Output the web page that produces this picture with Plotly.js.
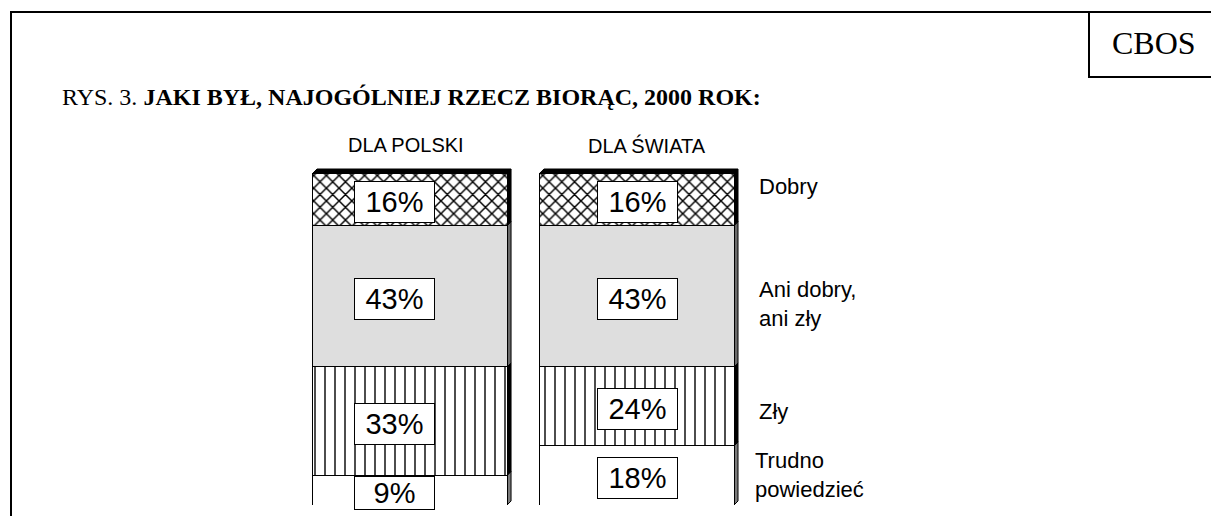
<!DOCTYPE html>
<html>
<head>
<meta charset="utf-8">
<script src="https://cdn.plot.ly/plotly-3.0.1.min.js"></script>
<style>html,body{margin:0;padding:0;background:#fff;}#chart{width:1211px;height:516px;}</style>
</head>
<body>
<div id="chart"></div>
<script>
// ---- data ----
const categories = ['DLA POLSKI', 'DLA ŚWIATA'];
const seriesNames = ['Trudno powiedzieć', 'Zły', 'Ani dobry, ani zły', 'Dobry'];
const trudno = [9, 18];
const zly = [33, 24];
const aniDobryAniZly = [43, 43];
const dobry = [16, 16];
const legendLabels = ['Trudno<br>powiedzieć', 'Zły', 'Ani dobry,<br>ani zły', 'Dobry'];
const titlePrefix = 'RYS. 3. ';
const titleMain = 'JAKI BYŁ, NAJOGÓLNIEJ RZECZ BIORĄC, 2000 ROK:';
const sourceLabel = 'CBOS';

const series = [trudno, zly, aniDobryAniZly, dobry];

// ---- geometry/style ----
const W = 1211, H = 516;
const M = {l: 250, r: 451, t: 150, b: 11};
const PW = W - M.l - M.r, PH = H - M.t - M.b;
const YMAX = 108;
const XR = [-0.705, 1.542];
const BARW = 0.855;
const pxPerX = PW / (XR[1] - XR[0]);
const pxPerY = PH / YMAX;
const dx = 4 / pxPerX, dy = 4 / pxPerY;
const px = x => (x - M.l) / PW;
const py = y => (H - M.b - y) / PH;

const styles = [
  {color: '#ffffff', pattern: {shape: ''}, side: '#7a7a7a'},
  {color: '#ffffff', pattern: {shape: '|', fgcolor: '#000000', bgcolor: '#ffffff', size: 10, solidity: 0.14}, side: '#000000'},
  {color: '#dedede', pattern: {shape: ''}, side: '#6a6a6a'},
  {color: '#ffffff', pattern: {shape: 'x', fgcolor: '#000000', bgcolor: '#ffffff', size: 9, solidity: 0.3}, side: '#000000'}
];
const valueShift = [-16, 1];
const legendYShift = [0, -5, -8, 13];
const legendX = [753, 757, 757, 757];

const traces = series.map((vals, s) => ({
  type: 'bar', name: seriesNames[s], x: categories, y: vals, width: BARW,
  marker: {color: styles[s].color, pattern: styles[s].pattern, line: {color: '#000', width: 1}},
  hoverinfo: 'skip', showlegend: false
}));

const shapes = [];
const annotations = [];
const fontSans = 'Liberation Sans, Arial, sans-serif';
const fontSerif = 'Liberation Serif, Times New Roman, serif';

categories.forEach((cat, i) => {
  const xl = i - BARW / 2, xr = i + BARW / 2;
  let base = 0;
  series.forEach((vals, s) => {
    const v = vals[i], top = base + v;
    shapes.push({type: 'path', xref: 'x', yref: 'y', layer: 'below',
      path: `M ${xr},${base} L ${xr + dx},${base + dy} L ${xr + dx},${top + dy} L ${xr},${top} Z`,
      fillcolor: styles[s].side, line: {color: '#000', width: 1}});
    annotations.push({x: cat, y: base + v / 2, xref: 'x', yref: 'y', text: v + '%', showarrow: false,
      xanchor: 'center', yanchor: 'middle',
      xshift: valueShift[i], yshift: -3,
      font: {family: fontSans, size: 29, color: '#000'},
      bgcolor: '#ffffff', bordercolor: '#000', borderwidth: 1, borderpad: 1,
      width: 77, height: Math.min(38, v * pxPerY)});
    base = top;
  });
  shapes.push({type: 'path', xref: 'x', yref: 'y', layer: 'below',
    path: `M ${xl},${base} L ${xl + dx},${base + dy} L ${xr + dx},${base + dy} L ${xr},${base} Z`,
    fillcolor: '#000', line: {color: '#000', width: 1}});
});

// category headers
const catShift = [-4, 10];
categories.forEach((cat, i) => {
  annotations.push({x: cat, y: py(145), xref: 'x', yref: 'paper', text: cat, showarrow: false,
    xanchor: 'center', yanchor: 'middle',
    xshift: catShift[i], font: {family: fontSans, size: 20, color: '#000'}});
});

// right-side labels, aligned with last bar's segments
{
  const last = categories.length - 1;
  let base = 0;
  series.forEach((vals, s) => {
    const mid = base + vals[last] / 2;
    annotations.push({x: px(legendX[s]), y: mid, xref: 'paper', yref: 'y', xanchor: 'left', yanchor: 'middle',
      align: 'left', text: legendLabels[s], showarrow: false, yshift: legendYShift[s],
      font: {family: fontSans, size: 22, color: '#000'}});
    base += vals[last];
  });
}

// title & source
annotations.push({x: px(60), y: py(97), xref: 'paper', yref: 'paper', xanchor: 'left', yanchor: 'middle', showarrow: false,
  text: titlePrefix + '<b>' + titleMain + '</b>', font: {family: fontSerif, size: 24, color: '#000'}});
annotations.push({x: px(1154), y: py(43), xref: 'paper', yref: 'paper', xanchor: 'center', yanchor: 'middle', showarrow: false,
  text: sourceLabel, font: {family: fontSerif, size: 32, color: '#000'}});

// frame
const frame = [[11, 12, 1212, 12], [11, 11, 11, 517], [1089, 12, 1089, 77], [1088, 77, 1212, 77]];
frame.forEach(f => shapes.push({type: 'line', xref: 'paper', yref: 'paper',
  x0: px(f[0]), y0: py(f[1]), x1: px(f[2]), y1: py(f[3]), line: {color: '#000', width: 2}}));

const layout = {
  width: W, height: H, margin: M, barmode: 'stack',
  paper_bgcolor: '#fff', plot_bgcolor: 'rgba(0,0,0,0)',
  xaxis: {range: XR, visible: false, type: 'category'},
  yaxis: {range: [0, YMAX], visible: false},
  shapes, annotations, showlegend: false
};
Plotly.newPlot('chart', traces, layout, {staticPlot: true, displayModeBar: false});
</script>
</body>
</html>
